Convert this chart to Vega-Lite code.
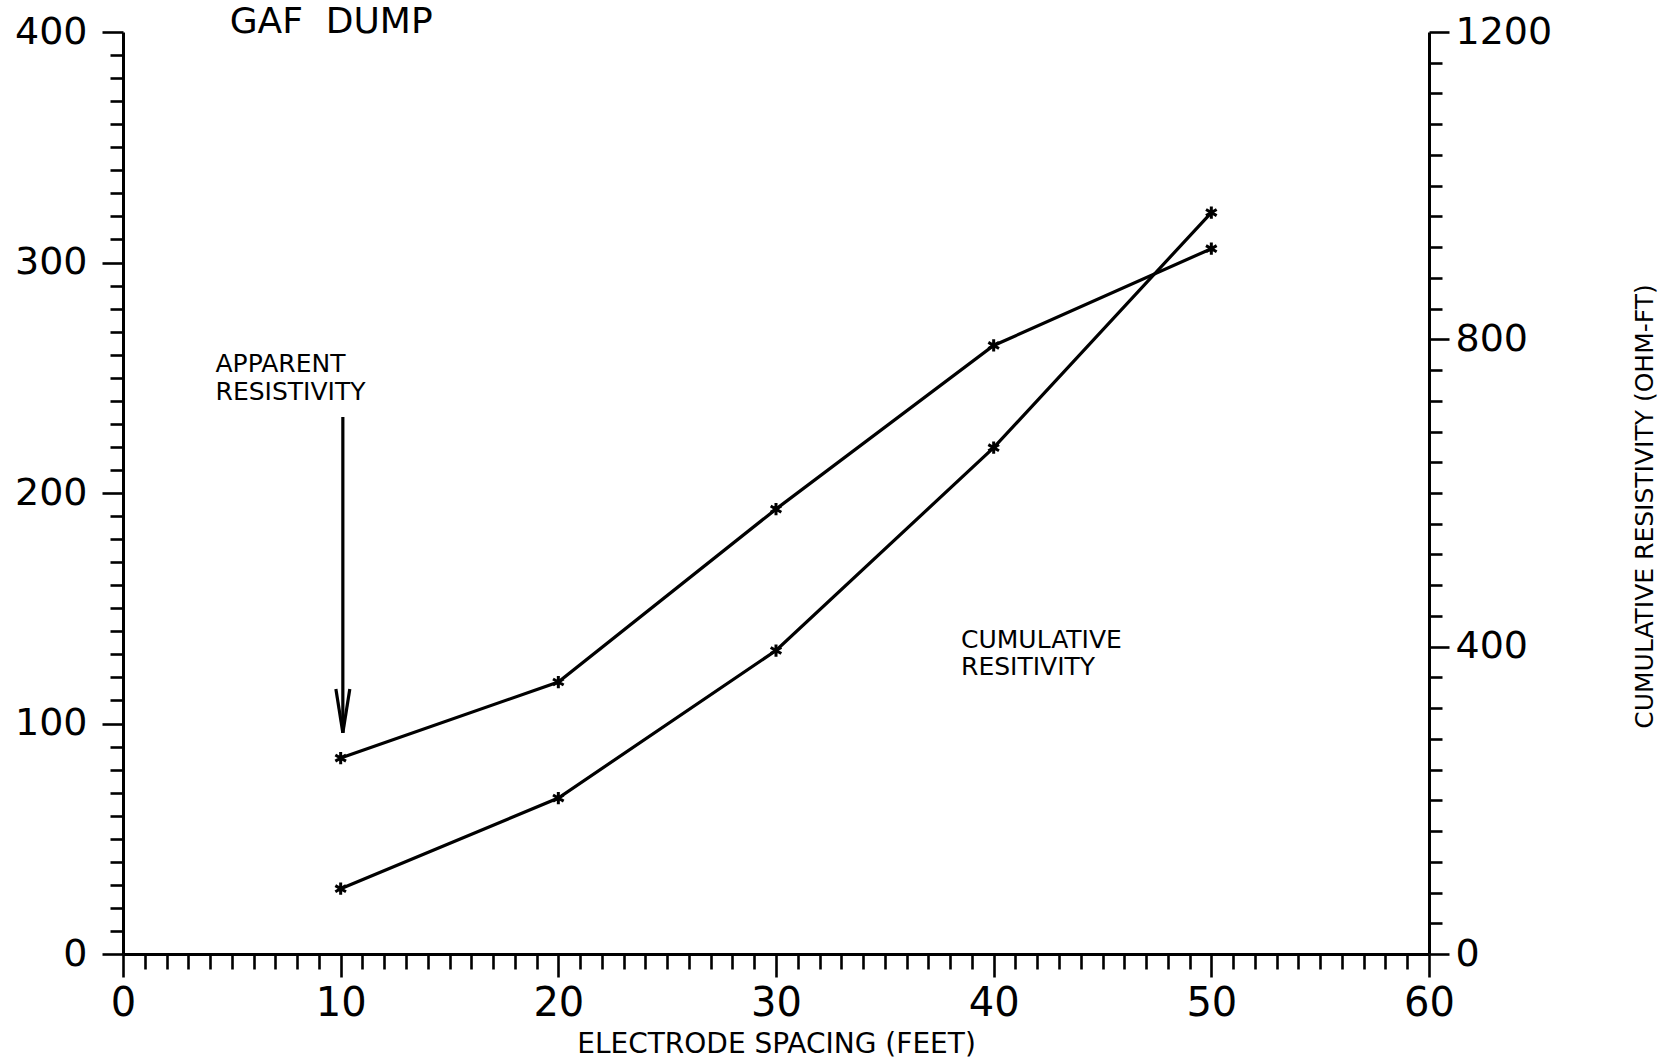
{
  "$schema": "https://vega.github.io/schema/vega-lite/v6.json",
  "width": 1306,
  "height": 922,
  "autosize": {"type": "none"},
  "padding": {"left": 123, "top": 32, "right": 234, "bottom": 105},
  "background": "white",
  "config": {
    "view": {"stroke": null},
    "axis": {
      "grid": false,
      "domainColor": "black",
      "tickColor": "black",
      "labelColor": "black",
      "titleColor": "black",
      "labelFont": "DejaVu Sans",
      "titleFont": "DejaVu Sans",
      "titleFontWeight": "normal",
      "domainWidth": 3,
      "tickWidth": 2.6,
      "labelFlush": false,
      "labelOverlap": false
    }
  },
  "datasets": {
    "res": [
      {"spacing": 10, "apparent": 85, "cumulative": 85},
      {"spacing": 20, "apparent": 118, "cumulative": 203},
      {"spacing": 30, "apparent": 193, "cumulative": 395},
      {"spacing": 40, "apparent": 264, "cumulative": 659},
      {"spacing": 50, "apparent": 306, "cumulative": 965}
    ],
    "arrow": [
      {"x1": 10.1, "y1": 233, "x2": 10.1, "y2": 96},
      {"x1": 9.78, "y1": 115, "x2": 10.1, "y2": 96},
      {"x1": 10.42, "y1": 115, "x2": 10.1, "y2": 96}
    ],
    "heading": [
      {"text": "GAF\u00a0\u00a0DUMP", "spacing": 4.9, "value": 404.5}
    ],
    "notes": [
      {"text": "APPARENT", "spacing": 4.25, "value": 256},
      {"text": "RESISTIVITY", "spacing": 4.25, "value": 244},
      {"text": "CUMULATIVE", "spacing": 38.5, "value": 136.4},
      {"text": "RESITIVITY", "spacing": 38.5, "value": 124.3}
    ]
  },
  "resolve": {"scale": {"x": "independent", "y": "independent"}},
  "layer": [
    {
      "data": {"name": "res"},
      "mark": {
        "type": "line",
        "color": "black",
        "strokeWidth": 3.2,
        "point": {
          "shape": "M0,-1L0,1M-0.87,-0.5L0.87,0.5M-0.87,0.5L0.87,-0.5",
          "filled": false,
          "color": "black",
          "strokeWidth": 3,
          "size": 150
        }
      },
      "encoding": {
        "x": {
          "field": "spacing",
          "type": "quantitative",
          "scale": {"domain": [0, 60], "nice": false, "zero": false},
          "axis": {
            "orient": "bottom",
            "values": [0, 10, 20, 30, 40, 50, 60],
            "tickSize": 23,
            "labelFontSize": 40,
            "labelPadding": 6,
            "title": "ELECTRODE SPACING (FEET)",
            "titleFontSize": 28,
            "titleBaseline": "middle",
            "titleY": 90
          }
        },
        "y": {
          "field": "apparent",
          "type": "quantitative",
          "scale": {"domain": [0, 400], "nice": false},
          "axis": {
            "orient": "left",
            "values": [0, 100, 200, 300, 400],
            "format": "d",
            "tickSize": 21,
            "labelFontSize": 38,
            "labelPadding": 15,
            "title": null
          }
        }
      }
    },
    {
      "data": {"name": "res"},
      "mark": {
        "type": "line",
        "color": "black",
        "strokeWidth": 3.2,
        "point": {
          "shape": "M0,-1L0,1M-0.87,-0.5L0.87,0.5M-0.87,0.5L0.87,-0.5",
          "filled": false,
          "color": "black",
          "strokeWidth": 3,
          "size": 150
        }
      },
      "encoding": {
        "x": {
          "field": "spacing",
          "type": "quantitative",
          "scale": {"domain": [0, 60], "nice": false, "zero": false},
          "axis": null
        },
        "y": {
          "field": "cumulative",
          "type": "quantitative",
          "scale": {"domain": [0, 1200], "nice": false},
          "axis": {
            "orient": "right",
            "values": [0, 400, 800, 1200],
            "format": "d",
            "tickSize": 20,
            "labelFontSize": 38,
            "labelPadding": 6,
            "title": "CUMULATIVE  RESISTIVITY  (OHM-FT)",
            "titleFontSize": 25,
            "titleAngle": 270,
            "titleAlign": "center",
            "titleBaseline": "middle",
            "titleX": 215,
            "titleY": 474
          }
        }
      }
    },
    {
      "data": {"name": "res"},
      "mark": {"type": "point", "opacity": 0},
      "encoding": {
        "x": {
          "field": "spacing",
          "type": "quantitative",
          "scale": {"domain": [0, 60], "nice": false, "zero": false},
          "axis": {
            "orient": "bottom",
            "values": [1,2,3,4,5,6,7,8,9,11,12,13,14,15,16,17,18,19,21,22,23,24,25,26,27,28,29,31,32,33,34,35,36,37,38,39,41,42,43,44,45,46,47,48,49,51,52,53,54,55,56,57,58,59],
            "tickSize": 15,
            "labels": false,
            "domain": false,
            "title": null
          }
        },
        "y": {
          "field": "apparent",
          "type": "quantitative",
          "scale": {"domain": [0, 400], "nice": false},
          "axis": {
            "orient": "left",
            "values": [10,20,30,40,50,60,70,80,90,110,120,130,140,150,160,170,180,190,210,220,230,240,250,260,270,280,290,310,320,330,340,350,360,370,380,390],
            "tickSize": 13,
            "labels": false,
            "domain": false,
            "title": null
          }
        }
      }
    },
    {
      "data": {"name": "res"},
      "mark": {"type": "point", "opacity": 0},
      "encoding": {
        "x": {
          "field": "spacing",
          "type": "quantitative",
          "scale": {"domain": [0, 60], "nice": false, "zero": false},
          "axis": null
        },
        "y": {
          "field": "cumulative",
          "type": "quantitative",
          "scale": {"domain": [0, 1200], "nice": false},
          "axis": {
            "orient": "right",
            "values": [40,80,120,160,200,240,280,320,360,440,480,520,560,600,640,680,720,760,840,880,920,960,1000,1040,1080,1120,1160],
            "tickSize": 13,
            "labels": false,
            "domain": false,
            "title": null
          }
        }
      }
    },
    {
      "data": {"name": "arrow"},
      "mark": {"type": "rule", "color": "black", "strokeWidth": 3.2},
      "encoding": {
        "x": {"field": "x1", "type": "quantitative", "scale": {"domain": [0, 60], "nice": false, "zero": false}, "axis": null},
        "y": {"field": "y1", "type": "quantitative", "scale": {"domain": [0, 400], "nice": false}, "axis": null},
        "x2": {"field": "x2"},
        "y2": {"field": "y2"}
      }
    },
    {
      "data": {"name": "heading"},
      "mark": {"type": "text", "color": "black", "font": "DejaVu Sans", "fontSize": 36, "align": "left", "baseline": "middle"},
      "encoding": {
        "x": {"field": "spacing", "type": "quantitative", "scale": {"domain": [0, 60], "nice": false, "zero": false}, "axis": null},
        "y": {"field": "value", "type": "quantitative", "scale": {"domain": [0, 400], "nice": false}, "axis": null},
        "text": {"field": "text"}
      }
    },
    {
      "data": {"name": "notes"},
      "mark": {"type": "text", "color": "black", "font": "DejaVu Sans", "fontSize": 25, "align": "left", "baseline": "middle"},
      "encoding": {
        "x": {"field": "spacing", "type": "quantitative", "scale": {"domain": [0, 60], "nice": false, "zero": false}, "axis": null},
        "y": {"field": "value", "type": "quantitative", "scale": {"domain": [0, 400], "nice": false}, "axis": null},
        "text": {"field": "text"}
      }
    }
  ]
}
